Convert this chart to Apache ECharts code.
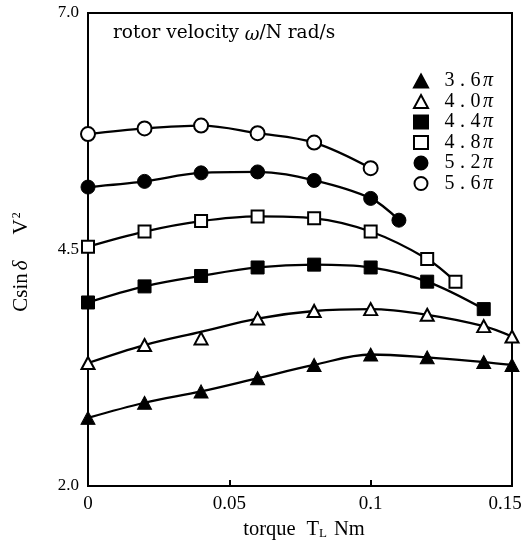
<!DOCTYPE html>
<html><head><meta charset="utf-8">
<script src="https://cdn.jsdelivr.net/npm/echarts@6/dist/echarts.min.js"></script>
<style>html,body{margin:0;padding:0;background:#fff}#c{width:525px;height:552px}</style>
</head><body><div id="c"></div>
<script>
// ---- data ----
const seriesNames = ['3.6π','4.0π','4.4π','4.8π','5.2π','5.6π'];
const x36 = [0,0.02,0.04,0.06,0.08,0.10,0.12,0.14,0.15];
const y36 = [2.72,2.88,3.00,3.14,3.28,3.39,3.36,3.31,3.28];
const x40 = [0,0.02,0.04,0.06,0.08,0.10,0.12,0.14,0.15];
const y40 = [3.30,3.49,3.56,3.77,3.85,3.87,3.81,3.69,3.58];
const c40 = [3.30,3.49,3.63,3.77,3.85,3.87,3.81,3.69,3.58]; // fitted curve
const x44 = [0,0.02,0.04,0.06,0.08,0.10,0.12,0.14];
const y44 = [3.94,4.11,4.22,4.31,4.34,4.31,4.16,3.87];
const x48 = [0,0.02,0.04,0.06,0.08,0.10,0.12,0.13];
const y48 = [4.53,4.69,4.80,4.85,4.83,4.69,4.40,4.16];
const x52 = [0,0.02,0.04,0.06,0.08,0.10,0.11];
const y52 = [5.16,5.22,5.31,5.32,5.23,5.04,4.81];
const x56 = [0,0.02,0.04,0.06,0.08,0.10];
const y56 = [5.72,5.78,5.81,5.73,5.63,5.36];
const xTicks = [0,0.05,0.1,0.15];
const yTicks = [2.0,4.5,7.0];

const pairs = (xs, ys) => xs.map((x,i)=>[x, ys[i]]);
const serif = '"Liberation Serif","Times New Roman",serif';
const wideSerif = '"DejaVu Serif",serif';
const filled = {color:'#000', borderColor:'#000', borderWidth:1, opacity:1};
const empty = {color:'#fff', borderColor:'#000', borderWidth:2, opacity:1};
const defs = [
  {name:seriesNames[0], pts:pairs(x36,y36), curve:pairs(x36,y36), sym:'triangle', size:[14,13], st:filled},
  {name:seriesNames[1], pts:pairs(x40,y40), curve:pairs(x40,c40), sym:'triangle', size:[13,12], st:empty},
  {name:seriesNames[2], pts:pairs(x44,y44), curve:pairs(x44,y44), sym:'rect', size:13, st:filled},
  {name:seriesNames[3], pts:pairs(x48,y48), curve:pairs(x48,y48), sym:'rect', size:12, st:empty},
  {name:seriesNames[4], pts:pairs(x52,y52), curve:pairs(x52,y52), sym:'circle', size:14, st:filled},
  {name:seriesNames[5], pts:pairs(x56,y56), curve:pairs(x56,y56), sym:'circle', size:14, st:empty}
];
const series = [];
defs.forEach(d=>{
  series.push({type:'line', data:d.curve, smooth:0.35, showSymbol:false, symbol:'none',
    lineStyle:{color:'#000', width:2.3}, z:2, silent:true});
});
defs.forEach(d=>{
  series.push({type:'scatter', name:d.name, data:d.pts, symbol:d.sym, symbolSize:d.size,
    itemStyle:d.st, z:5});
});

const legendRich = {
  d:{fontFamily:serif, fontSize:20, color:'#000', width:13, align:'center', lineHeight:20},
  p:{fontFamily:serif, fontStyle:'italic', fontSize:20, color:'#000', lineHeight:20, padding:[0,0,0,1]}
};

const chart = echarts.init(document.getElementById('c'), null, {renderer:'canvas'});
chart.setOption({
  animation:false,
  backgroundColor:'#fff',
  grid:{left:88, right:13, top:13, bottom:66, show:true, borderColor:'#000', borderWidth:2,
    backgroundColor:'transparent', outerBoundsMode:'none', containLabel:false},
  xAxis:{type:'value', min:0, max:0.15, interval:0.05,
    axisLine:{show:true, lineStyle:{color:'#000', width:2}},
    axisTick:{show:true, inside:true, length:6, lineStyle:{color:'#000', width:2}},
    splitLine:{show:false},
    axisLabel:{color:'#000', fontFamily:serif, fontSize:19, margin:9,
      rich:{r:{fontFamily:serif, fontSize:19, color:'#000', padding:[0,14,0,0]}},
      formatter:v=>{const t=xTicks.find(k=>Math.abs(k-v)<1e-9); if(t===undefined) return '';
        return t===xTicks[xTicks.length-1] ? '{r|'+t+'}' : String(t);}},
    name:'{a|torque}{g1| }{a|T}{s|L}{g2| }{a|Nm}', nameLocation:'middle', nameGap:32,
    nameTextStyle:{padding:[0,0,0,8], rich:{a:{fontFamily:serif, fontSize:20.5, color:'#000'},
      g1:{width:11}, g2:{width:7},
      s:{fontFamily:serif, fontSize:13, color:'#000', verticalAlign:'bottom', padding:[7,0,0,0]}}}
  },
  yAxis:{type:'value', min:2, max:7, interval:2.5,
    axisLine:{show:true, lineStyle:{color:'#000', width:2}},
    axisTick:{show:false},
    splitLine:{show:false},
    axisLabel:{color:'#000', fontFamily:serif, fontSize:17, margin:9,
      formatter:v=>{const t=yTicks.find(k=>Math.abs(k-v)<1e-9); return t===undefined?'':t.toFixed(1);}}
  },
  legend:{orient:'vertical', left:408, top:66, itemGap:0.5, itemWidth:14, itemHeight:13,
    data:seriesNames, selectedMode:false,
    formatter:n=>n.replace('π','').split('').map(c=>'{d|'+c+'}').join('')+'{p|π}',
    textStyle:{rich:legendRich, padding:[0,0,0,10]}
  },
  graphic:[
    {type:'text', left:113, top:24, style:{text:'{a|rotor velocity }{w|ω}{a|/N rad/s}',
      rich:{a:{font:'18.5px '+wideSerif, fill:'#000'}, w:{font:'italic 18px '+wideSerif, fill:'#000', padding:[4,0,0,0]}}}},
    {type:'text', x:21, y:262, rotation:Math.PI/2, style:{
      text:'{a|Csin}{d|δ}{g| }{a|V}{s|2}', align:'center', verticalAlign:'middle',
      rich:{a:{font:'21px '+serif, fill:'#000'}, d:{font:'italic 21px '+serif, fill:'#000', padding:[0,0,0,3]},
        g:{width:26}, s:{font:'12px '+serif, fill:'#000', verticalAlign:'top', padding:[0,0,9,1]}}}}
  ],
  series:series
});
</script></body></html>
